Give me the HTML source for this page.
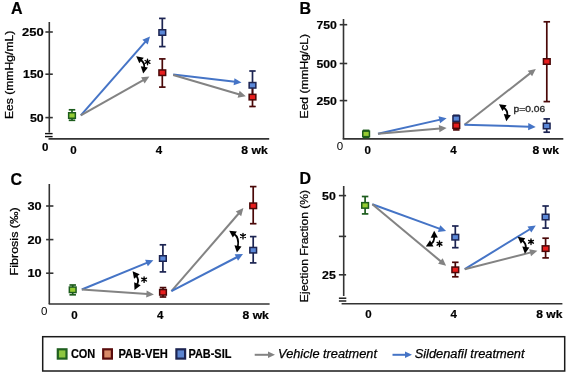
<!DOCTYPE html>
<html><head><meta charset="utf-8"><style>
html,body{margin:0;padding:0;background:#fff;}
svg{display:block;font-family:"Liberation Sans", sans-serif;will-change:transform;}
</style></head><body>
<svg width="567" height="372" viewBox="0 0 567 372">
<rect width="567" height="372" fill="#fff"/>
<text x="11" y="13.9" font-size="16" font-weight="bold" font-style="normal" text-anchor="start" fill="#000" stroke="#000" stroke-width="0.2">A</text>
<line x1="49.3" y1="22" x2="49.3" y2="132.6" stroke="#333" stroke-width="1.6"/>
<line x1="45" y1="133.6" x2="52.6" y2="133.6" stroke="#111" stroke-width="1.4"/>
<line x1="45" y1="136.6" x2="52.6" y2="136.6" stroke="#111" stroke-width="1.4"/>
<line x1="48.5" y1="138.85" x2="269.2" y2="138.85" stroke="#333" stroke-width="1.6"/>
<line x1="45.4" y1="32" x2="52.8" y2="32" stroke="#333" stroke-width="1.6"/>
<text x="43.6" y="36.1" font-size="11.5" font-weight="bold" font-style="normal" text-anchor="end" fill="#000" stroke="#000" stroke-width="0.2" textLength="21.6" lengthAdjust="spacingAndGlyphs">250</text>
<line x1="45.4" y1="74.2" x2="52.8" y2="74.2" stroke="#333" stroke-width="1.6"/>
<text x="43.6" y="78.3" font-size="11.5" font-weight="bold" font-style="normal" text-anchor="end" fill="#000" stroke="#000" stroke-width="0.2" textLength="20.5" lengthAdjust="spacingAndGlyphs">150</text>
<line x1="45.4" y1="117.6" x2="52.8" y2="117.6" stroke="#333" stroke-width="1.6"/>
<text x="43.6" y="121.69999999999999" font-size="11.5" font-weight="bold" font-style="normal" text-anchor="end" fill="#000" stroke="#000" stroke-width="0.2" textLength="13.7" lengthAdjust="spacingAndGlyphs">50</text>
<text x="42" y="150.7" font-size="11.5" font-weight="bold" font-style="normal" text-anchor="start" fill="#000" stroke="#000" stroke-width="0.2">0</text>
<text x="73.5" y="154.2" font-size="11.5" font-weight="bold" font-style="normal" text-anchor="middle" fill="#000" stroke="#000" stroke-width="0.2">0</text>
<text x="159" y="154.2" font-size="11.5" font-weight="bold" font-style="normal" text-anchor="middle" fill="#000" stroke="#000" stroke-width="0.2">4</text>
<text x="241.3" y="154.2" font-size="11.5" font-weight="bold" font-style="normal" text-anchor="start" fill="#000" stroke="#000" stroke-width="0.2" textLength="26.4" lengthAdjust="spacingAndGlyphs">8 wk</text>
<text transform="translate(13.1,74.9) rotate(-90)" x="0" y="0" font-size="10.5" text-anchor="middle" fill="#000" stroke="#000" stroke-width="0.25" textLength="88.4" lengthAdjust="spacingAndGlyphs">Ees (mmHg/mL)</text>
<line x1="80.8" y1="115.4" x2="145.71" y2="41.39" stroke="#4574c6" stroke-width="2.0"/>
<polygon points="150,36.5 147.76,44.51 142.35,39.76" fill="#4574c6"/>
<line x1="80.8" y1="115.4" x2="143.74" y2="79.80" stroke="#838383" stroke-width="2.0"/>
<polygon points="149.4,76.6 144.64,83.43 141.10,77.16" fill="#838383"/>
<line x1="173.2" y1="74.5" x2="235.05" y2="81.83" stroke="#4574c6" stroke-width="2.0"/>
<polygon points="241.5,82.6 233.63,85.29 234.48,78.14" fill="#4574c6"/>
<line x1="173.2" y1="75" x2="239.56" y2="94.47" stroke="#838383" stroke-width="2.0"/>
<polygon points="245.8,96.3 237.59,97.64 239.62,90.73" fill="#838383"/>
<polygon points="136.2,56.3 143.76,57.72 139.28,63.35" fill="#000"/>
<polygon points="143.2,73.6 140.80,66.29 147.90,67.51" fill="#000"/>
<path d="M140.89,60.04 Q144.97,63.28 144.21,67.69" fill="none" stroke="#000" stroke-width="1.8"/>
<path d="M147.50,59.10L147.50,64.70M145.08,60.50L149.92,63.30M145.08,63.30L149.92,60.50" stroke="#000" stroke-width="1.35" stroke-linecap="round" fill="none"/>
<line x1="72" y1="109.8" x2="72" y2="115.5" stroke="#1d5c1d" stroke-width="1.7"/>
<line x1="68.75" y1="109.8" x2="75.25" y2="109.8" stroke="#1d5c1d" stroke-width="1.7"/>
<line x1="72" y1="115.5" x2="72" y2="120.3" stroke="#1d5c1d" stroke-width="1.7"/>
<line x1="68.75" y1="120.3" x2="75.25" y2="120.3" stroke="#1d5c1d" stroke-width="1.7"/>
<line x1="162.3" y1="18.4" x2="162.3" y2="32.5" stroke="#1c2452" stroke-width="1.7"/>
<line x1="159.05" y1="18.4" x2="165.55" y2="18.4" stroke="#1c2452" stroke-width="1.7"/>
<line x1="162.3" y1="32.5" x2="162.3" y2="46.6" stroke="#1c2452" stroke-width="1.7"/>
<line x1="159.05" y1="46.6" x2="165.55" y2="46.6" stroke="#1c2452" stroke-width="1.7"/>
<line x1="162.3" y1="58.9" x2="162.3" y2="72.7" stroke="#4a0808" stroke-width="1.7"/>
<line x1="159.05" y1="58.9" x2="165.55" y2="58.9" stroke="#4a0808" stroke-width="1.7"/>
<line x1="162.3" y1="72.7" x2="162.3" y2="87.1" stroke="#4a0808" stroke-width="1.7"/>
<line x1="159.05" y1="87.1" x2="165.55" y2="87.1" stroke="#4a0808" stroke-width="1.7"/>
<line x1="252.5" y1="71" x2="252.5" y2="85.3" stroke="#1c2452" stroke-width="1.7"/>
<line x1="249.25" y1="71" x2="255.75" y2="71" stroke="#1c2452" stroke-width="1.7"/>
<line x1="252.5" y1="85.3" x2="252.5" y2="97" stroke="#1c2452" stroke-width="1.7"/>
<line x1="249.25" y1="97" x2="255.75" y2="97" stroke="#1c2452" stroke-width="1.7"/>
<line x1="252.5" y1="85" x2="252.5" y2="97.1" stroke="#4a0808" stroke-width="1.7"/>
<line x1="249.25" y1="85" x2="255.75" y2="85" stroke="#4a0808" stroke-width="1.7"/>
<line x1="252.5" y1="97.1" x2="252.5" y2="106.5" stroke="#4a0808" stroke-width="1.7"/>
<line x1="249.25" y1="106.5" x2="255.75" y2="106.5" stroke="#4a0808" stroke-width="1.7"/>
<rect x="68.65" y="112.75" width="6.70" height="5.50" fill="#94cc33" stroke="#1d5c1d" stroke-width="1.5"/>
<rect x="158.95" y="29.75" width="6.70" height="5.50" fill="#5b88d8" stroke="#1c2452" stroke-width="1.5"/>
<rect x="158.95" y="69.95" width="6.70" height="5.50" fill="#e81e1e" stroke="#4a0808" stroke-width="1.5"/>
<rect x="249.15" y="82.55" width="6.70" height="5.50" fill="#5b88d8" stroke="#1c2452" stroke-width="1.5"/>
<rect x="249.15" y="94.35" width="6.70" height="5.50" fill="#e81e1e" stroke="#4a0808" stroke-width="1.5"/>
<text x="299.5" y="13.8" font-size="16" font-weight="bold" font-style="normal" text-anchor="start" fill="#000" stroke="#000" stroke-width="0.2">B</text>
<line x1="343.5" y1="19" x2="343.5" y2="138.85" stroke="#333" stroke-width="1.6"/>
<line x1="342.7" y1="138.85" x2="563.3" y2="138.85" stroke="#333" stroke-width="1.6"/>
<line x1="339.7" y1="24.7" x2="347.2" y2="24.7" stroke="#333" stroke-width="1.6"/>
<text x="336.8" y="28.799999999999997" font-size="11.5" font-weight="bold" font-style="normal" text-anchor="end" fill="#000" stroke="#000" stroke-width="0.2" textLength="20.4" lengthAdjust="spacingAndGlyphs">750</text>
<line x1="339.7" y1="63.5" x2="347.2" y2="63.5" stroke="#333" stroke-width="1.6"/>
<text x="336.8" y="67.6" font-size="11.5" font-weight="bold" font-style="normal" text-anchor="end" fill="#000" stroke="#000" stroke-width="0.2" textLength="20.4" lengthAdjust="spacingAndGlyphs">500</text>
<line x1="339.7" y1="100.6" x2="347.2" y2="100.6" stroke="#333" stroke-width="1.6"/>
<text x="336.8" y="104.69999999999999" font-size="11.5" font-weight="bold" font-style="normal" text-anchor="end" fill="#000" stroke="#000" stroke-width="0.2" textLength="20.4" lengthAdjust="spacingAndGlyphs">250</text>
<text x="336.7" y="150.4" font-size="11.5" font-weight="normal" font-style="normal" text-anchor="start" fill="#000">0</text>
<text x="367.6" y="154.4" font-size="11.5" font-weight="bold" font-style="normal" text-anchor="middle" fill="#000" stroke="#000" stroke-width="0.2">0</text>
<text x="453.5" y="154.4" font-size="11.5" font-weight="bold" font-style="normal" text-anchor="middle" fill="#000" stroke="#000" stroke-width="0.2">4</text>
<text x="532.6" y="154.4" font-size="11.5" font-weight="bold" font-style="normal" text-anchor="start" fill="#000" stroke="#000" stroke-width="0.2" textLength="26.4" lengthAdjust="spacingAndGlyphs">8 wk</text>
<text transform="translate(307.8,76.25) rotate(-90)" x="0" y="0" font-size="10.5" text-anchor="middle" fill="#000" stroke="#000" stroke-width="0.25" textLength="84.3" lengthAdjust="spacingAndGlyphs">Eed (mmHg/cL)</text>
<line x1="378" y1="133.8" x2="440.26" y2="119.64" stroke="#4574c6" stroke-width="2.0"/>
<polygon points="446.6,118.2 440.08,123.37 438.49,116.35" fill="#4574c6"/>
<line x1="378" y1="133.8" x2="440.12" y2="128.55" stroke="#838383" stroke-width="2.0"/>
<polygon points="446.6,128 439.43,132.22 438.82,125.04" fill="#838383"/>
<line x1="464.5" y1="124.7" x2="530.68" y2="72.91" stroke="#838383" stroke-width="2.0"/>
<polygon points="535.8,68.9 532.11,76.36 527.68,70.69" fill="#838383"/>
<line x1="464.5" y1="124.7" x2="529.20" y2="126.70" stroke="#4574c6" stroke-width="2.0"/>
<polygon points="535.7,126.9 528.09,130.27 528.31,123.07" fill="#4574c6"/>
<polygon points="499,104.2 506.63,105.21 502.45,111.08" fill="#000"/>
<polygon points="506.3,121.3 503.80,114.02 510.91,115.14" fill="#000"/>
<path d="M503.89,107.68 Q507.98,110.60 507.23,115.37" fill="none" stroke="#000" stroke-width="1.8"/>
<text x="513.6" y="111.8" font-size="9.8" font-weight="normal" font-style="normal" text-anchor="start" fill="#2a2a2a" stroke="#2a2a2a" stroke-width="0.35" textLength="31.6" lengthAdjust="spacingAndGlyphs">p=0.06</text>
<line x1="366.1" y1="130.4" x2="366.1" y2="133.9" stroke="#1d5c1d" stroke-width="1.7"/>
<line x1="362.85" y1="130.4" x2="369.35" y2="130.4" stroke="#1d5c1d" stroke-width="1.7"/>
<line x1="366.1" y1="133.9" x2="366.1" y2="137.4" stroke="#1d5c1d" stroke-width="1.7"/>
<line x1="362.85" y1="137.4" x2="369.35" y2="137.4" stroke="#1d5c1d" stroke-width="1.7"/>
<line x1="456.3" y1="115.3" x2="456.3" y2="118.6" stroke="#1c2452" stroke-width="1.7"/>
<line x1="453.05" y1="115.3" x2="459.55" y2="115.3" stroke="#1c2452" stroke-width="1.7"/>
<line x1="456.3" y1="125.6" x2="456.3" y2="129.9" stroke="#4a0808" stroke-width="1.7"/>
<line x1="453.05" y1="129.9" x2="459.55" y2="129.9" stroke="#4a0808" stroke-width="1.7"/>
<line x1="546.8" y1="21.8" x2="546.8" y2="61.5" stroke="#4a0808" stroke-width="1.7"/>
<line x1="543.55" y1="21.8" x2="550.05" y2="21.8" stroke="#4a0808" stroke-width="1.7"/>
<line x1="546.8" y1="61.5" x2="546.8" y2="101.6" stroke="#4a0808" stroke-width="1.7"/>
<line x1="543.55" y1="101.6" x2="550.05" y2="101.6" stroke="#4a0808" stroke-width="1.7"/>
<line x1="546.7" y1="118.9" x2="546.7" y2="126" stroke="#1c2452" stroke-width="1.7"/>
<line x1="543.45" y1="118.9" x2="549.95" y2="118.9" stroke="#1c2452" stroke-width="1.7"/>
<line x1="546.7" y1="126" x2="546.7" y2="132.2" stroke="#1c2452" stroke-width="1.7"/>
<line x1="543.45" y1="132.2" x2="549.95" y2="132.2" stroke="#1c2452" stroke-width="1.7"/>
<rect x="362.75" y="131.15" width="6.70" height="5.50" fill="#94cc33" stroke="#1d5c1d" stroke-width="1.5"/>
<rect x="452.95" y="115.85" width="6.70" height="5.50" fill="#5b88d8" stroke="#1c2452" stroke-width="1.5"/>
<rect x="452.95" y="122.85" width="6.70" height="5.50" fill="#e81e1e" stroke="#4a0808" stroke-width="1.5"/>
<rect x="543.45" y="58.75" width="6.70" height="5.50" fill="#e81e1e" stroke="#4a0808" stroke-width="1.5"/>
<rect x="543.35" y="123.25" width="6.70" height="5.50" fill="#5b88d8" stroke="#1c2452" stroke-width="1.5"/>
<text x="10.6" y="184.7" font-size="16" font-weight="bold" font-style="normal" text-anchor="start" fill="#000" stroke="#000" stroke-width="0.2">C</text>
<line x1="49.3" y1="184" x2="49.3" y2="304" stroke="#333" stroke-width="1.6"/>
<line x1="48.7" y1="304" x2="269.6" y2="304" stroke="#333" stroke-width="1.6"/>
<line x1="46.1" y1="206" x2="53.4" y2="206" stroke="#333" stroke-width="1.6"/>
<text x="41.6" y="210.1" font-size="11.5" font-weight="bold" font-style="normal" text-anchor="end" fill="#000" stroke="#000" stroke-width="0.2" textLength="14.2" lengthAdjust="spacingAndGlyphs">30</text>
<line x1="46.1" y1="239.6" x2="53.4" y2="239.6" stroke="#333" stroke-width="1.6"/>
<text x="41.6" y="243.7" font-size="11.5" font-weight="bold" font-style="normal" text-anchor="end" fill="#000" stroke="#000" stroke-width="0.2" textLength="14.2" lengthAdjust="spacingAndGlyphs">20</text>
<line x1="46.1" y1="273.2" x2="53.4" y2="273.2" stroke="#333" stroke-width="1.6"/>
<text x="41.6" y="277.3" font-size="11.5" font-weight="bold" font-style="normal" text-anchor="end" fill="#000" stroke="#000" stroke-width="0.2" textLength="14.2" lengthAdjust="spacingAndGlyphs">10</text>
<text x="41" y="314.8" font-size="11.5" font-weight="normal" font-style="normal" text-anchor="start" fill="#000">0</text>
<text x="74.5" y="318.6" font-size="11.5" font-weight="bold" font-style="normal" text-anchor="middle" fill="#000" stroke="#000" stroke-width="0.2">0</text>
<text x="160.2" y="318.6" font-size="11.5" font-weight="bold" font-style="normal" text-anchor="middle" fill="#000" stroke="#000" stroke-width="0.2">4</text>
<text x="242.5" y="318.6" font-size="11.5" font-weight="bold" font-style="normal" text-anchor="start" fill="#000" stroke="#000" stroke-width="0.2" textLength="26.4" lengthAdjust="spacingAndGlyphs">8 wk</text>
<text transform="translate(17.6,241.35) rotate(-90)" x="0" y="0" font-size="10.5" text-anchor="middle" fill="#000" stroke="#000" stroke-width="0.25" textLength="68.1" lengthAdjust="spacingAndGlyphs">Fibrosis (‰)</text>
<line x1="81.8" y1="289.5" x2="147.38" y2="262.66" stroke="#4574c6" stroke-width="2.0"/>
<polygon points="153.4,260.2 147.82,266.37 145.10,259.71" fill="#4574c6"/>
<line x1="81.8" y1="289.5" x2="147.42" y2="294.05" stroke="#838383" stroke-width="2.0"/>
<polygon points="153.9,294.5 146.17,297.57 146.67,290.39" fill="#838383"/>
<line x1="171.4" y1="291.2" x2="239.14" y2="213.01" stroke="#838383" stroke-width="2.0"/>
<polygon points="243.4,208.1 241.21,216.13 235.77,211.41" fill="#838383"/>
<line x1="171.4" y1="291.2" x2="237.23" y2="257.00" stroke="#4574c6" stroke-width="2.0"/>
<polygon points="243,254 238.00,260.65 234.68,254.26" fill="#4574c6"/>
<polygon points="132.6,271.2 139.67,274.24 134.06,278.75" fill="#000"/>
<polygon points="134.5,289.9 134.21,282.21 140.70,285.34" fill="#000"/>
<path d="M136.36,275.87 Q139.43,279.68 137.11,284.50" fill="none" stroke="#000" stroke-width="1.8"/>
<path d="M144.10,276.80L144.10,282.40M141.68,278.20L146.52,281.00M141.68,281.00L146.52,278.20" stroke="#000" stroke-width="1.35" stroke-linecap="round" fill="none"/>
<polygon points="229.2,230.7 236.85,231.50 232.84,237.48" fill="#000"/>
<polygon points="236.9,252.6 234.43,245.31 241.53,246.46" fill="#000"/>
<path d="M234.18,234.04 Q239.33,237.50 237.85,246.68" fill="none" stroke="#000" stroke-width="1.8"/>
<path d="M243.00,233.30L243.00,238.90M240.58,234.70L245.42,237.50M240.58,237.50L245.42,234.70" stroke="#000" stroke-width="1.35" stroke-linecap="round" fill="none"/>
<line x1="72.7" y1="285" x2="72.7" y2="289.8" stroke="#1d5c1d" stroke-width="1.7"/>
<line x1="69.45" y1="285" x2="75.95" y2="285" stroke="#1d5c1d" stroke-width="1.7"/>
<line x1="72.7" y1="289.8" x2="72.7" y2="294.8" stroke="#1d5c1d" stroke-width="1.7"/>
<line x1="69.45" y1="294.8" x2="75.95" y2="294.8" stroke="#1d5c1d" stroke-width="1.7"/>
<line x1="162.9" y1="244.8" x2="162.9" y2="258.5" stroke="#1c2452" stroke-width="1.7"/>
<line x1="159.65" y1="244.8" x2="166.15" y2="244.8" stroke="#1c2452" stroke-width="1.7"/>
<line x1="162.9" y1="258.5" x2="162.9" y2="271.9" stroke="#1c2452" stroke-width="1.7"/>
<line x1="159.65" y1="271.9" x2="166.15" y2="271.9" stroke="#1c2452" stroke-width="1.7"/>
<line x1="163" y1="287.6" x2="163" y2="292.3" stroke="#4a0808" stroke-width="1.7"/>
<line x1="159.75" y1="287.6" x2="166.25" y2="287.6" stroke="#4a0808" stroke-width="1.7"/>
<line x1="163" y1="292.3" x2="163" y2="297" stroke="#4a0808" stroke-width="1.7"/>
<line x1="159.75" y1="297" x2="166.25" y2="297" stroke="#4a0808" stroke-width="1.7"/>
<line x1="253.2" y1="186.6" x2="253.2" y2="205.8" stroke="#4a0808" stroke-width="1.7"/>
<line x1="249.95" y1="186.6" x2="256.45" y2="186.6" stroke="#4a0808" stroke-width="1.7"/>
<line x1="253.2" y1="205.8" x2="253.2" y2="223.7" stroke="#4a0808" stroke-width="1.7"/>
<line x1="249.95" y1="223.7" x2="256.45" y2="223.7" stroke="#4a0808" stroke-width="1.7"/>
<line x1="253.2" y1="236.6" x2="253.2" y2="250.2" stroke="#1c2452" stroke-width="1.7"/>
<line x1="249.95" y1="236.6" x2="256.45" y2="236.6" stroke="#1c2452" stroke-width="1.7"/>
<line x1="253.2" y1="250.2" x2="253.2" y2="262.9" stroke="#1c2452" stroke-width="1.7"/>
<line x1="249.95" y1="262.9" x2="256.45" y2="262.9" stroke="#1c2452" stroke-width="1.7"/>
<rect x="69.35" y="287.05" width="6.70" height="5.50" fill="#94cc33" stroke="#1d5c1d" stroke-width="1.5"/>
<rect x="159.55" y="255.75" width="6.70" height="5.50" fill="#5b88d8" stroke="#1c2452" stroke-width="1.5"/>
<rect x="159.65" y="289.55" width="6.70" height="5.50" fill="#e81e1e" stroke="#4a0808" stroke-width="1.5"/>
<rect x="249.85" y="203.05" width="6.70" height="5.50" fill="#e81e1e" stroke="#4a0808" stroke-width="1.5"/>
<rect x="249.85" y="247.45" width="6.70" height="5.50" fill="#5b88d8" stroke="#1c2452" stroke-width="1.5"/>
<text x="299.5" y="184.4" font-size="16" font-weight="bold" font-style="normal" text-anchor="start" fill="#000" stroke="#000" stroke-width="0.2">D</text>
<line x1="343.7" y1="186" x2="343.7" y2="296" stroke="#333" stroke-width="1.6"/>
<line x1="338.9" y1="298.2" x2="346.3" y2="298.2" stroke="#111" stroke-width="1.4"/>
<line x1="338.9" y1="301" x2="346.3" y2="301" stroke="#111" stroke-width="1.4"/>
<line x1="341.6" y1="303.8" x2="562.4" y2="303.8" stroke="#333" stroke-width="1.6"/>
<line x1="338.9" y1="195.6" x2="346.1" y2="195.6" stroke="#333" stroke-width="1.6"/>
<text x="335.8" y="199.7" font-size="11.5" font-weight="bold" font-style="normal" text-anchor="end" fill="#000" stroke="#000" stroke-width="0.2" textLength="13.7" lengthAdjust="spacingAndGlyphs">50</text>
<line x1="338.9" y1="236.4" x2="346.1" y2="236.4" stroke="#333" stroke-width="1.6"/>
<line x1="338.9" y1="274.8" x2="346.1" y2="274.8" stroke="#333" stroke-width="1.6"/>
<text x="335.8" y="278.90000000000003" font-size="11.5" font-weight="bold" font-style="normal" text-anchor="end" fill="#000" stroke="#000" stroke-width="0.2" textLength="13.7" lengthAdjust="spacingAndGlyphs">25</text>
<text x="368.4" y="318.4" font-size="11.5" font-weight="bold" font-style="normal" text-anchor="middle" fill="#000" stroke="#000" stroke-width="0.2">0</text>
<text x="453.8" y="318.4" font-size="11.5" font-weight="bold" font-style="normal" text-anchor="middle" fill="#000" stroke="#000" stroke-width="0.2">4</text>
<text x="536.3" y="318.4" font-size="11.5" font-weight="bold" font-style="normal" text-anchor="start" fill="#000" stroke="#000" stroke-width="0.2" textLength="26.1" lengthAdjust="spacingAndGlyphs">8 wk</text>
<text transform="translate(308.4,246.05) rotate(-90)" x="0" y="0" font-size="10.5" text-anchor="middle" fill="#000" stroke="#000" stroke-width="0.25" textLength="112.3" lengthAdjust="spacingAndGlyphs">Ejection Fraction (%)</text>
<line x1="372.3" y1="204.2" x2="439.99" y2="228.87" stroke="#4574c6" stroke-width="2.0"/>
<polygon points="446.1,231.1 437.82,231.91 440.29,225.15" fill="#4574c6"/>
<line x1="372.3" y1="204.2" x2="441.11" y2="261.63" stroke="#838383" stroke-width="2.0"/>
<polygon points="446.1,265.8 438.04,263.76 442.65,258.23" fill="#838383"/>
<line x1="464.7" y1="269.2" x2="530.26" y2="229.00" stroke="#4574c6" stroke-width="2.0"/>
<polygon points="535.8,225.6 531.29,232.59 527.52,226.45" fill="#4574c6"/>
<line x1="464.7" y1="269.2" x2="531.10" y2="252.39" stroke="#838383" stroke-width="2.0"/>
<polygon points="537.4,250.8 531.01,256.13 529.25,249.15" fill="#838383"/>
<polygon points="434.2,230.8 437.86,237.57 430.66,237.63" fill="#000"/>
<polygon points="425.8,246.6 430.04,240.18 433.49,246.49" fill="#000"/>
<path d="M434.25,236.80 Q434.30,241.95 431.06,243.72" fill="none" stroke="#000" stroke-width="1.8"/>
<path d="M439.50,241.00L439.50,246.60M437.08,242.40L441.92,245.20M437.08,245.20L441.92,242.40" stroke="#000" stroke-width="1.35" stroke-linecap="round" fill="none"/>
<polygon points="517.7,236.8 525.27,238.18 520.82,243.83" fill="#000"/>
<polygon points="524.9,253.7 522.26,246.47 529.40,247.46" fill="#000"/>
<path d="M522.41,240.51 Q526.30,243.57 525.72,247.76" fill="none" stroke="#000" stroke-width="1.8"/>
<path d="M531.00,239.00L531.00,244.60M528.58,240.40L533.42,243.20M528.58,243.20L533.42,240.40" stroke="#000" stroke-width="1.35" stroke-linecap="round" fill="none"/>
<line x1="365.1" y1="196.5" x2="365.1" y2="205.4" stroke="#1d5c1d" stroke-width="1.7"/>
<line x1="361.85" y1="196.5" x2="368.35" y2="196.5" stroke="#1d5c1d" stroke-width="1.7"/>
<line x1="365.1" y1="205.4" x2="365.1" y2="213.9" stroke="#1d5c1d" stroke-width="1.7"/>
<line x1="361.85" y1="213.9" x2="368.35" y2="213.9" stroke="#1d5c1d" stroke-width="1.7"/>
<line x1="455.3" y1="226" x2="455.3" y2="237.2" stroke="#1c2452" stroke-width="1.7"/>
<line x1="452.05" y1="226" x2="458.55" y2="226" stroke="#1c2452" stroke-width="1.7"/>
<line x1="455.3" y1="237.2" x2="455.3" y2="247.7" stroke="#1c2452" stroke-width="1.7"/>
<line x1="452.05" y1="247.7" x2="458.55" y2="247.7" stroke="#1c2452" stroke-width="1.7"/>
<line x1="455.3" y1="262.3" x2="455.3" y2="269.8" stroke="#4a0808" stroke-width="1.7"/>
<line x1="452.05" y1="262.3" x2="458.55" y2="262.3" stroke="#4a0808" stroke-width="1.7"/>
<line x1="455.3" y1="269.8" x2="455.3" y2="276.8" stroke="#4a0808" stroke-width="1.7"/>
<line x1="452.05" y1="276.8" x2="458.55" y2="276.8" stroke="#4a0808" stroke-width="1.7"/>
<line x1="545.6" y1="206" x2="545.6" y2="217" stroke="#1c2452" stroke-width="1.7"/>
<line x1="542.35" y1="206" x2="548.85" y2="206" stroke="#1c2452" stroke-width="1.7"/>
<line x1="545.6" y1="217" x2="545.6" y2="228.1" stroke="#1c2452" stroke-width="1.7"/>
<line x1="542.35" y1="228.1" x2="548.85" y2="228.1" stroke="#1c2452" stroke-width="1.7"/>
<line x1="545.6" y1="238.2" x2="545.6" y2="248.6" stroke="#4a0808" stroke-width="1.7"/>
<line x1="542.35" y1="238.2" x2="548.85" y2="238.2" stroke="#4a0808" stroke-width="1.7"/>
<line x1="545.6" y1="248.6" x2="545.6" y2="257.9" stroke="#4a0808" stroke-width="1.7"/>
<line x1="542.35" y1="257.9" x2="548.85" y2="257.9" stroke="#4a0808" stroke-width="1.7"/>
<rect x="361.75" y="202.65" width="6.70" height="5.50" fill="#94cc33" stroke="#1d5c1d" stroke-width="1.5"/>
<rect x="451.95" y="234.45" width="6.70" height="5.50" fill="#5b88d8" stroke="#1c2452" stroke-width="1.5"/>
<rect x="451.95" y="267.05" width="6.70" height="5.50" fill="#e81e1e" stroke="#4a0808" stroke-width="1.5"/>
<rect x="542.25" y="214.25" width="6.70" height="5.50" fill="#5b88d8" stroke="#1c2452" stroke-width="1.5"/>
<rect x="542.25" y="245.85" width="6.70" height="5.50" fill="#e81e1e" stroke="#4a0808" stroke-width="1.5"/>
<rect x="42.7" y="336.7" width="522" height="34.3" fill="none" stroke="#1a1a1a" stroke-width="1.5"/>
<rect x="57.800000000000004" y="349.3" width="8.7" height="9.3" fill="#8cc63f" stroke="#1f5f1f" stroke-width="2.2"/>
<text x="70.9" y="358.3" font-size="12.5" font-weight="bold" font-style="normal" text-anchor="start" fill="#000" stroke="#000" stroke-width="0.2" textLength="24.4" lengthAdjust="spacingAndGlyphs">CON</text>
<rect x="103.19999999999999" y="349.3" width="8.7" height="9.3" fill="#d98a68" stroke="#5a0c0c" stroke-width="2.2"/>
<text x="118.5" y="358.3" font-size="12.5" font-weight="bold" font-style="normal" text-anchor="start" fill="#000" stroke="#000" stroke-width="0.2" textLength="49.4" lengthAdjust="spacingAndGlyphs">PAB-VEH</text>
<rect x="176.4" y="349.3" width="8.7" height="9.3" fill="#5b84d0" stroke="#1c2452" stroke-width="2.2"/>
<text x="188.4" y="358.3" font-size="12.5" font-weight="bold" font-style="normal" text-anchor="start" fill="#000" stroke="#000" stroke-width="0.2" textLength="43" lengthAdjust="spacingAndGlyphs">PAB-SIL</text>
<line x1="254.7" y1="354.8" x2="269.00" y2="354.80" stroke="#838383" stroke-width="2"/>
<polygon points="275,354.8 268.00,358.00 268.00,351.60" fill="#838383"/>
<text x="278.1" y="358.1" font-size="12.5" font-weight="normal" font-style="italic" text-anchor="start" fill="#000" stroke="#000" stroke-width="0.25" textLength="98.9" lengthAdjust="spacingAndGlyphs">Vehicle treatment</text>
<line x1="392.5" y1="354.8" x2="406.00" y2="354.80" stroke="#4574c6" stroke-width="2"/>
<polygon points="412,354.8 405.00,358.00 405.00,351.60" fill="#4574c6"/>
<text x="414.7" y="358.1" font-size="12.5" font-weight="normal" font-style="italic" text-anchor="start" fill="#000" stroke="#000" stroke-width="0.25" textLength="109.9" lengthAdjust="spacingAndGlyphs">Sildenafil treatment</text>
</svg>
</body></html>
